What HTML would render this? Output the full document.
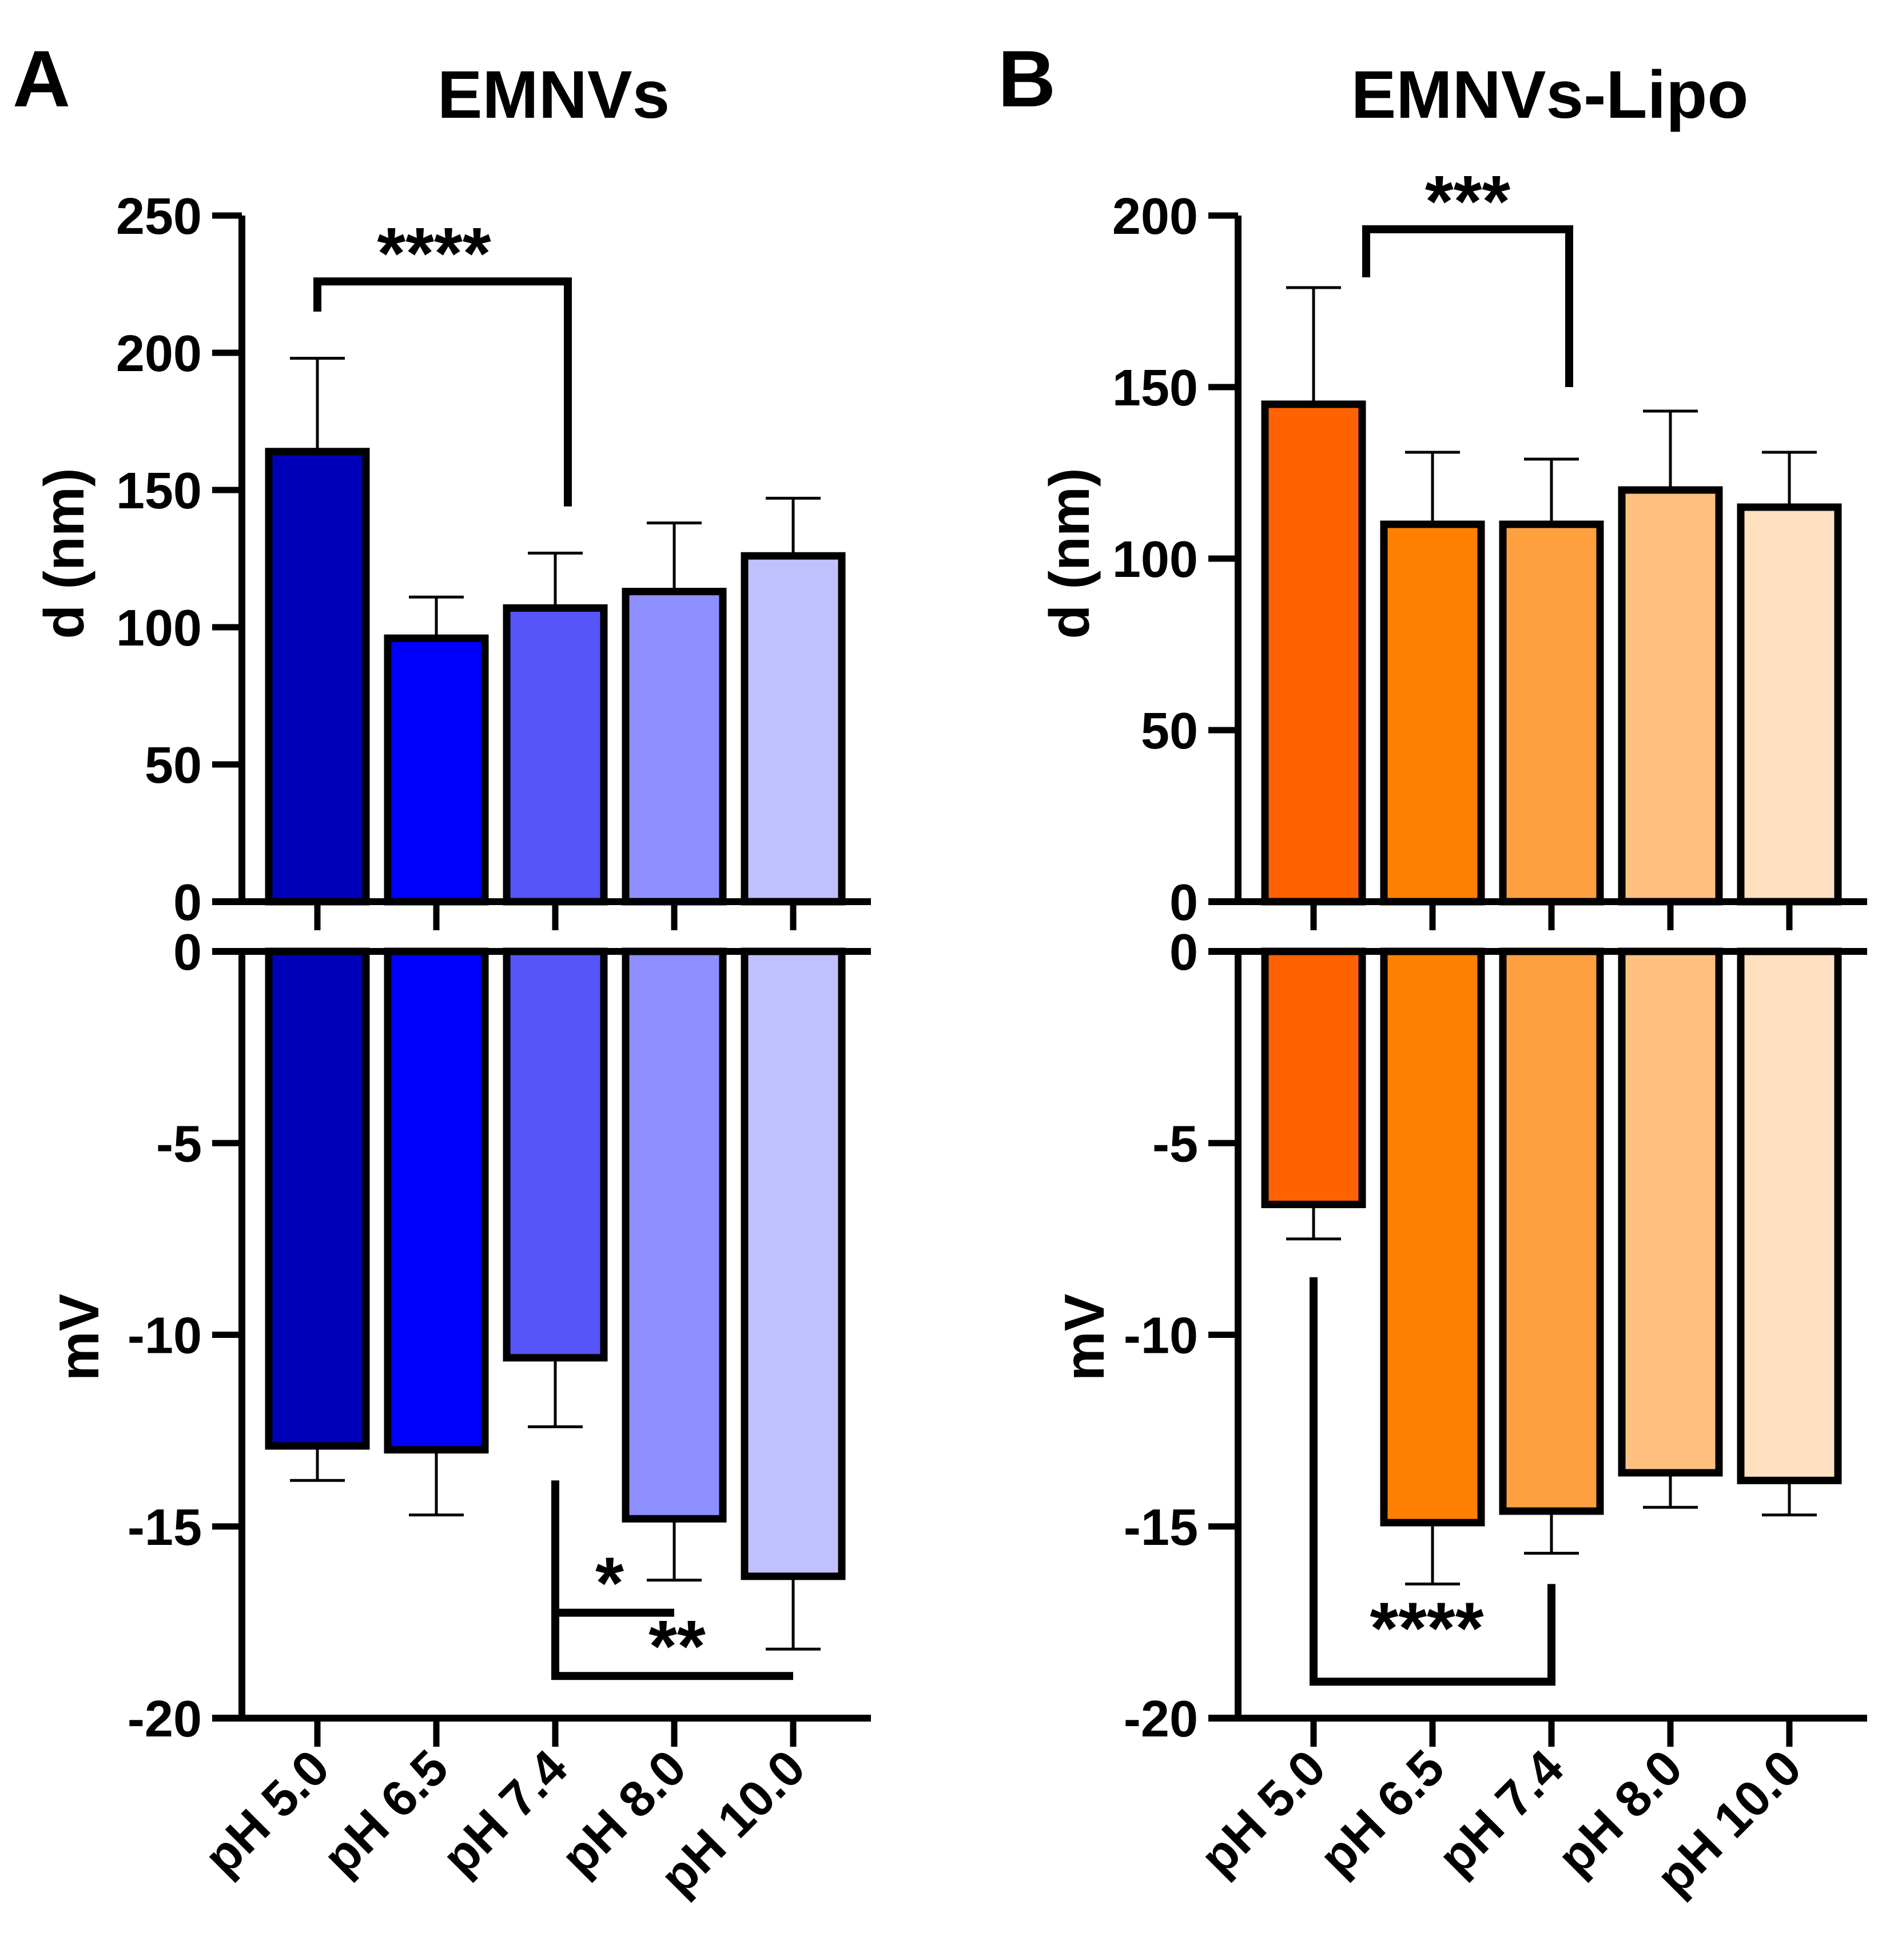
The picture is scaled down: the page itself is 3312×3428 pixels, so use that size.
<!DOCTYPE html>
<html><head><meta charset="utf-8"><style>
html,body{margin:0;padding:0;background:#fff;}
svg{display:block;font-family:"Liberation Sans",Arial,sans-serif;}
</style></head><body>
<svg id="chart" width="3312" height="3428" viewBox="0 0 3312 3428" xmlns="http://www.w3.org/2000/svg">
<rect width="3312" height="3428" fill="#fff"/>
</svg>
<script>
// ---- data ----
const categories = ["pH 5.0","pH 6.5","pH 7.4","pH 8.0","pH 10.0"];
const sizeA = [164, 96, 107, 113, 126];
const sizeAErr = [198, 111, 127, 138, 147];
const zetaA = [-12.9, -13.0, -10.6, -14.8, -16.3];
const zetaAErr = [-13.8, -14.7, -12.4, -16.4, -18.2];
const sizeB = [145, 110, 110, 120, 115];
const sizeBErr = [179, 131, 129, 143, 131];
const zetaB = [-6.6, -14.9, -14.6, -13.6, -13.8];
const zetaBErr = [-7.5, -16.5, -15.7, -14.5, -14.7];
const sizeTicksA = [0, 50, 100, 150, 200, 250];
const sizeTicksB = [0, 50, 100, 150, 200];
const zetaTicks = [0, -5, -10, -15, -20];
const colorsA = ["#0000b8","#0000ff","#5555f8","#8f8fff","#c0c0ff"];
const colorsB = ["#ff6200","#ff8000","#ffa040","#ffc080","#ffe0c0"];

const svg = document.getElementById('chart');
const NS = 'http://www.w3.org/2000/svg';
function mk(tag, attrs, parent){
  const e = document.createElementNS(NS, tag);
  for (const k in attrs) e.setAttribute(k, attrs[k]);
  (parent||svg).appendChild(e);
  return e;
}
function line(x1,y1,x2,y2,w,parent,name){
  const l = mk('line',{x1:x1,y1:y1,x2:x2,y2:y2,stroke:'#000','stroke-width':w},parent);
  
  
  return l;
}
function txt(x,y,s,size,anchor,parent,name,extra){
  const t = mk('text',{x:x,y:y,'font-size':size,'font-weight':'bold','text-anchor':anchor,fill:'#000'},parent);
  if (extra) for (const k in extra) t.setAttribute(k, extra[k]);
  t.textContent = s;
  
  
  return t;
}

const upTop = 377, upZero = 1577, loZero = 1664, loBot = 3005;

function panel(cfg){
  const g = mk('g',{});
  
  
  const ax = cfg.ax;
  const xc = i => ax + 132 + i*208;
  const yU = v => upZero - v*(upZero-upTop)/cfg.upMax;
  const yL = v => loZero + (-v)*(loBot-loZero)/20;
  const xEnd = ax + 1100;

  txt(cfg.letterX, 186, cfg.id, 140, 'start', g, 'panel-letter-' + cfg.id);
  txt(ax+545, 206, cfg.title, 118, 'middle', g, 'panel-title-' + cfg.id);

  line(ax, upTop, ax, upZero+6, 12, g, 'upper-y-axis');
  line(ax-52, upZero, xEnd, upZero, 12, g, 'upper-x-axis');
  cfg.upTicks.forEach(v=>{
    line(ax-52, yU(v), ax, yU(v), 11, g, 'upper-y-tick');
    txt(ax-70, yU(v)+32, String(v), 90, 'end', g, 'upper-y-tick-label');
  });
  line(ax, loZero-6, ax, loBot+6, 12, g, 'lower-y-axis');
  line(ax-52, loZero, xEnd, loZero, 12, g, 'lower-zero-line');
  line(ax-52, loBot, xEnd, loBot, 12, g, 'lower-x-axis');
  zetaTicks.forEach(v=>{
    line(ax-52, yL(v), ax, yL(v), 11, g, 'lower-y-tick');
    txt(ax-70, yL(v)+32, String(v), 90, 'end', g, 'lower-y-tick-label');
  });

  categories.forEach((c,i)=>{
    const x = xc(i);
    line(x, upZero, x, upZero+50, 11, g, 'upper-x-tick');
    line(x, loBot, x, loBot+50, 11, g, 'lower-x-tick');
    const yt = yU(cfg.size[i]);
    line(x, yt, x, yU(cfg.sizeErr[i]), 5, g, 'size-error-bar');
    line(x-48, yU(cfg.sizeErr[i]), x+48, yU(cfg.sizeErr[i]), 5, g, 'size-error-cap');
    const r = mk('rect',{x:x-85,y:yt,width:170,height:upZero-yt,fill:cfg.colors[i],stroke:'#000','stroke-width':13},g);
    
    
    const yb = yL(cfg.zeta[i]);
    line(x, yb, x, yL(cfg.zetaErr[i]), 5, g, 'zeta-error-bar');
    line(x-48, yL(cfg.zetaErr[i]), x+48, yL(cfg.zetaErr[i]), 5, g, 'zeta-error-cap');
    const r2 = mk('rect',{x:x-85,y:loZero,width:170,height:yb-loZero,fill:cfg.colors[i],stroke:'#000','stroke-width':13},g);
    
    
    const lx = x+26, ly = 3098;
    txt(lx, ly, c, 88, 'end', g, 'x-tick-label', {transform:'rotate(-45 '+lx+' '+ly+')'});
  });

  txt(0,0,'d (nm)',98,'middle',g,'upper-y-axis-title',{transform:'translate('+(cfg.titleX+36)+' 968) rotate(-90)'});
  txt(0,0,'mV',98,'middle',g,'lower-y-axis-title',{transform:'translate('+(cfg.titleX+62)+' 2339) rotate(-90)'});
  cfg.annot(g, xc, yU, yL);
}

panel({id:'A', ax:423, letterX:22, title:'EMNVs', upMax:250, upTicks:sizeTicksA,
  size:sizeA, sizeErr:sizeAErr, zeta:zetaA, zetaErr:zetaAErr, colors:colorsA, titleX:110,
  annot:(g,xc,yU,yL)=>{
    const p = mk('polyline',{points:[xc(0),yU(215),xc(0),yU(226),xc(2)+22,yU(226),xc(2)+22,yU(144)].join(' '),fill:'none',stroke:'#000','stroke-width':14},g);
    
    
    txt((xc(0)+xc(2)+22)/2 - 15, yU(226)-5, '****', 128, 'middle', g, 'significance-label-size');
    const p2 = mk('polyline',{points:[xc(2),yL(-13.8),xc(2),yL(-18.9),xc(4),yL(-18.9)].join(' '),fill:'none',stroke:'#000','stroke-width':14},g);
    
    
    line(xc(2), yL(-17.25), xc(3), yL(-17.25), 14, g, 'significance-bracket-zeta-1');
    txt(xc(2)+95, yL(-17.25)-8, '*', 128, 'middle', g, 'significance-label-zeta-1');
    txt(xc(3)+5, yL(-18.9)-8, '**', 128, 'middle', g, 'significance-label-zeta-2');
  }});

panel({id:'B', ax:2165, letterX:1745, title:'EMNVs-Lipo', upMax:200, upTicks:sizeTicksB,
  size:sizeB, sizeErr:sizeBErr, zeta:zetaB, zetaErr:zetaBErr, colors:colorsB, titleX:1868,
  annot:(g,xc,yU,yL)=>{
    const p = mk('polyline',{points:[xc(0)+92,yU(182),xc(0)+92,yU(196),xc(2)+31,yU(196),xc(2)+31,yU(150)].join(' '),fill:'none',stroke:'#000','stroke-width':14},g);
    
    
    txt((xc(0)+xc(2)+123)/2, yU(196)-5, '***', 128, 'middle', g, 'significance-label-size');
    const p2 = mk('polyline',{points:[xc(0),yL(-8.5),xc(0),yL(-19.05),xc(2),yL(-19.05),xc(2),yL(-16.5)].join(' '),fill:'none',stroke:'#000','stroke-width':14},g);
    
    
    txt((xc(0)+xc(2))/2 - 10, yL(-19.05)-50, '****', 128, 'middle', g, 'significance-label-zeta');
  }});
</script>
</body></html>
